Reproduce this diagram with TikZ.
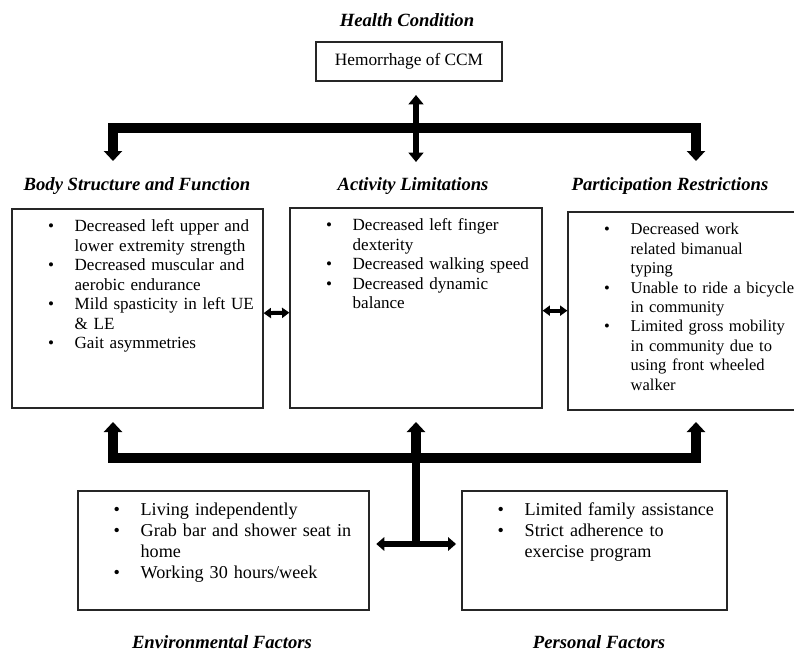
\documentclass[tikz,border=0pt]{standalone}
\usepackage{fontspec}
\setmainfont{Liberation Serif}
\usepackage{xcolor}
\usetikzlibrary{arrows.meta, positioning, calc, fit}

% bullet list used in the boxes
\newenvironment{blist}{\begin{list}{\textbullet}{%
  \setlength{\leftmargin}{47.25pt}\setlength{\labelwidth}{5pt}%
  \setlength{\labelsep}{15.5pt}\setlength{\itemsep}{0pt}%
  \setlength{\topsep}{0pt}\setlength{\parsep}{0pt}%
  \setlength{\partopsep}{0pt}\setlength{\rightmargin}{0pt}}\raggedright}{\end{list}}

\tikzset{
  box/.style={draw=black!85, line width=0.9pt, inner sep=0pt},
  toptext/.style={inner sep=0pt, text width=230pt, align=left,
    font=\fontsize{12.8}{14.6}\selectfont},
  bottext/.style={inner sep=0pt, text width=230pt, align=left,
    font=\fontsize{13.6}{15.8}\selectfont},
  head/.style={font=\fontsize{14}{16}\selectfont\bfseries\itshape, inner sep=0pt},
  bar/.style={line width=7.5pt, line join=miter,
    {Triangle[width=13.5pt,length=7.5pt]}-{Triangle[width=13.5pt,length=7.5pt]}},
  upbar/.style={line width=7.5pt, -{Triangle[width=13.5pt,length=7.5pt]}},
  hcarrow/.style={line width=4.3pt,
    {Triangle[width=11pt,length=7pt]}-{Triangle[width=11pt,length=7pt]}},
  pairarrow/.style={line width=3pt,
    {Triangle[width=7.5pt,length=5.5pt]}-{Triangle[width=7.5pt,length=5.5pt]}},
  forkarrow/.style={line width=5pt,
    {Triangle[width=10pt,length=6pt]}-{Triangle[width=10pt,length=6pt]}},
}

\begin{document}
\begin{tikzpicture}[x=0.75pt, y=-0.75pt]
    \useasboundingbox (0,0) rectangle (794,653);

    % Health condition
    \node[head] (hchead) at (407,20) {Health Condition};
    \node[box, fit={(316,42) (502,81)}] (hc) {};
    \node[font=\fontsize{13}{15}\selectfont] (hctext) at (hc.center) {Hemorrhage of CCM};

    % Headings of the three middle boxes
    \node[head] (bsfhead) at (137,186) {Body Structure and Function};
    \node[head] (alhead) at (413,186) {Activity Limitations};
    \node[head] (prhead) at (670,186) {Participation Restrictions};

    % Middle boxes
    \node[box, fit={(12,209) (263,408)}] (bsf) {};
    \node[box, fit={(290,208) (542,408)}] (al) {};
    \node[box, fit={(568,212) (800,410)}] (pr) {};

    \node[toptext, below right=2.8pt and 0pt of bsf.north west] (bsftext) {%
      \begin{blist}
        \item Decreased left upper and\\ lower extremity strength
        \item Decreased muscular and\\ aerobic endurance
        \item Mild spasticity in left UE\\ \& LE
        \item Gait asymmetries
      \end{blist}};
    \node[toptext, below right=2.8pt and 0pt of al.north west] (altext) {%
      \begin{blist}
        \item Decreased left finger\\ dexterity
        \item Decreased walking speed
        \item Decreased dynamic\\ balance
      \end{blist}};
    \node[toptext, font=\fontsize{12.4}{14.6}\selectfont,
      below right=2.6pt and 0pt of pr.north west] (prtext) {%
      \begin{blist}
        \item Decreased work\\ related bimanual\\ typing
        \item Unable to ride a bicycle\\ in community
        \item Limited gross mobility\\ in community due to\\ using front wheeled\\ walker
      \end{blist}};

    % Bottom boxes
    \node[box, fit={(78,491) (369,610)}] (env) {};
    \node[box, fit={(462,491) (727,610)}] (pf) {};

    \node[bottext, below right=2.8pt and 0pt of env.north west] (envtext) {%
      \begin{blist}
        \item Living independently
        \item Grab bar and shower seat in\\ home
        \item Working 30 hours/week
      \end{blist}};
    \node[bottext, below right=2.8pt and 0pt of pf.north west] (pftext) {%
      \begin{blist}
        \item Limited family assistance
        \item Strict adherence to\\ exercise program
      \end{blist}};

    \node[head] (envhead) at (222,642) {Environmental Factors};
    \node[head] (pfhead) at (599,642) {Personal Factors};

    % Arrow ends and bar joints
    \coordinate (hcout) at (416,95);
    \coordinate (topjoin) at (416,128);
    \coordinate (bsfin) at (113,161);
    \coordinate (alin) at (416,162);
    \coordinate (prin) at (696,161);
    \coordinate (botjoin) at (416,458);
    \coordinate (bsfout) at (113,422);
    \coordinate (alout) at (416,422);
    \coordinate (prout) at (696,422);
    \coordinate (fork) at (416,544);

    % Top bar
    \draw[bar] (bsfin) |- (topjoin) -| (prin);
    \draw[hcarrow] (hcout) -- (alin);

    % Arrows between the middle boxes
    \draw[pairarrow] ([yshift=-3.5pt]bsf.east) -- ([yshift=-3.5pt]al.west);
    \draw[pairarrow] ([yshift=-2pt]al.west -| al.east) -- ([yshift=-2pt]al.east -| pr.west);

    % Bottom bar
    \draw[bar] (bsfout) |- (botjoin) -| (prout);
    \draw[upbar] (botjoin) -- (alout);
    \draw[line width=5.5pt] (botjoin) -- (fork);
    \draw[forkarrow, shorten <=5pt, shorten >=4pt] (env.east |- fork) -- (pf.west |- fork);
\end{tikzpicture}
\end{document}
